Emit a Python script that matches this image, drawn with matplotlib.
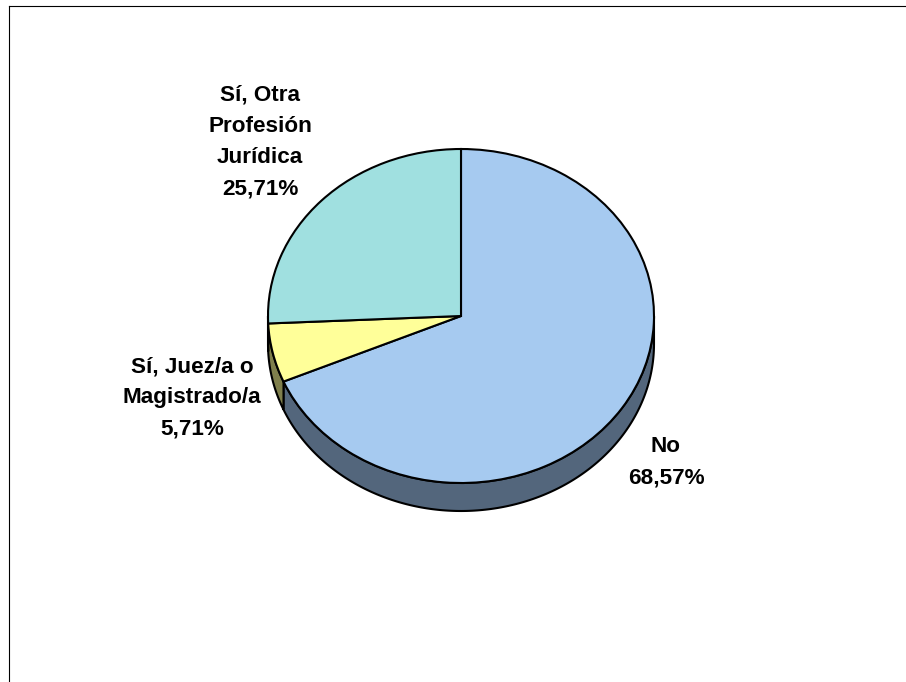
#!/usr/bin/env python3
"""3D-looking pie chart with a drawn side wall under the top face."""

import numpy as np
import matplotlib
matplotlib.use("Agg")
import matplotlib.pyplot as plt
from matplotlib.lines import Line2D

categories = ["No", "Sí, Juez/a o\nMagistrado/a", "Sí, Otra\nProfesión\nJurídica"]
values = [68.57, 5.71, 25.71]
top_colors = ["#A6CAF0", "#FFFF99", "#A0E0E0"]
side_colors = ["#53667C", "#7F7F4C", "#507070"]

W, H = 906, 682
CX, CY, RX, RY, DEPTH = 461, 316, 193, 167, 28
EDGE = 1.5

plt.rcParams["font.family"] = ["Liberation Sans", "DejaVu Sans"]

fig = plt.figure(figsize=(W / 100, H / 100), dpi=100, facecolor="white")
ax = fig.add_axes([(CX - RX) / W, (H - CY - RY) / H, 2 * RX / W, 2 * RY / H])

# side wall: only the part of each slice facing the viewer (180-360 deg)
depth = DEPTH / RY
start = 90.0
total = sum(values)
for val, col in zip(values, side_colors):
    end = start - val / total * 360.0
    lo, hi = end % 360, (start % 360) or 360
    if lo > hi:
        lo, hi = 0, hi
    lo2, hi2 = max(lo, 180), min(hi, 360)
    if end < 0 and start > 0:
        # slice wraps through 0 deg, so it covers the whole range from its end to 360
        lo2, hi2 = max(end % 360, 180), 360
    if lo2 < hi2:
        t = np.radians(np.linspace(lo2, hi2, 200))
        xs = np.r_[np.cos(t), np.cos(t[::-1])]
        ys = np.r_[np.sin(t), np.sin(t[::-1]) - depth]
        ax.fill(xs, ys, facecolor=col, edgecolor="black", linewidth=EDGE, clip_on=False, zorder=1)
    start = end

wedges, _ = ax.pie(values, colors=top_colors, startangle=90, counterclock=False,
                   wedgeprops=dict(edgecolor="black", linewidth=EDGE, zorder=2))
for w in wedges:
    w.set_clip_on(False)

# pie() forces a round pie, the reference is squashed
ax.set_aspect("auto")
ax.set_xlim(-1, 1)
ax.set_ylim(-1, 1)
ax.axis("off")

label_pos = [(666, 462), (192, 398), (260, 142)]
for cat, val, (x, y) in zip(categories, values, label_pos):
    txt = f"{cat}\n{val:.2f}%".replace(".", ",")
    fig.text(x / W, 1 - y / H, txt, ha="center", va="center", fontsize=16.2,
             fontweight="bold", linespacing=1.63, color="black")

# outer frame, only top and left are visible
fig.add_artist(Line2D([9.0 / W, 1], [1 - 5.5 / H, 1 - 5.5 / H], color="black", linewidth=0.8))
fig.add_artist(Line2D([9.0 / W, 9.0 / W], [1 - 5.5 / H, 0], color="black", linewidth=0.8))

fig.savefig("out.png", dpi=100)
